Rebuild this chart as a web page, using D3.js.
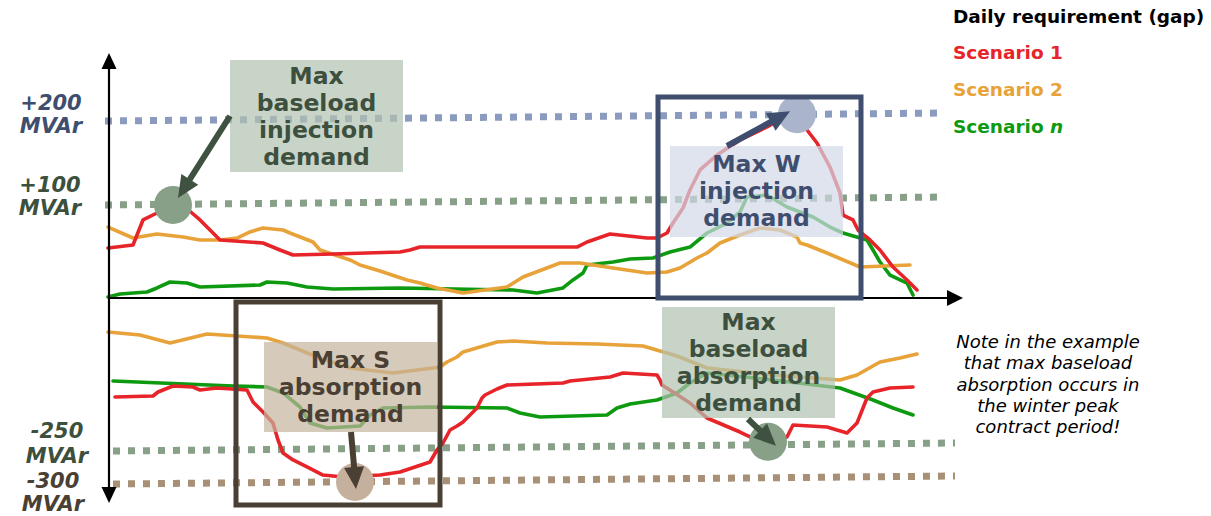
<!DOCTYPE html>
<html><head><meta charset="utf-8">
<script src="https://cdn.jsdelivr.net/npm/d3@7"></script>
<style>
html,body{margin:0;padding:0;background:#fff;}
svg{display:block;font-family:Verdana,"DejaVu Sans",sans-serif;}
</style>
</head><body>
<svg id="chart" width="1211" height="516"></svg>
<script>
// ---------- DATA ----------
const refValues = [200, 100, -250, -300];
const refLabels = ["+200", "+100", "-250", "-300"];
const refUnit = "MVAr";
const legendTitle = "Daily requirement (gap)";
const scenarioNames = ["Scenario 1", "Scenario 2", "Scenario n"];
const noteLines = ["Note in the example", "that max baseload", "absorption occurs in", "the winter peak", "contract period!"];

// [time index, MVAr]
const s1Injection = [[0,53.8],[2.5,57],[3.5,83.9],[4.9,91.4],[5.7,95.7],[6.7,98.9],[7.7,97.8],[8.4,91.4],[9.2,83.9],[11.2,62.4],[15.5,59.1],[17.2,51.6],[18.5,46.2],[22.5,47.3],[29.2,49.5],[30.2,51.6],[31.2,54.8],[46.9,54.8],[47.9,60.2],[50.2,68.8],[53.9,64.5],[54.9,64.5],[55.9,69.9],[56.5,80.6],[57.5,96.8],[58.2,117.9],[59.2,141.7],[60.9,159.5],[63.2,177.4],[65.9,192.9],[67.7,204.8],[68.9,209.5],[69.9,189.3],[70.9,173.8],[72.2,145.2],[73.2,114.3],[73.5,89.2],[74.5,83.9],[75.0,73.1],[76.2,62.4],[77.2,51.6],[78.5,33.3],[79.9,19.4],[80.9,8.6]];
const s2Injection = [[0,76.3],[2.5,64.5],[4.9,68.8],[7.5,65.6],[9.2,62.4],[11.2,62.4],[12.9,64.5],[14.2,71.0],[15.5,75.3],[17.5,73.1],[18.2,69.9],[20.5,60.2],[21.2,51.6],[24.2,40.9],[25.2,35.5],[27.2,29.0],[29.9,19.4],[31.2,16.1],[32.9,10.8],[35.5,5.4],[39.9,11.8],[41.5,22.6],[45.2,37.6],[47.2,37.6],[50.5,32.3],[53.9,26.9],[55.9,28.0],[57.2,32.3],[58.9,43.0],[59.9,48.4],[61.2,59.1],[63.2,67.7],[65.2,75.3],[67.2,73.1],[68.9,65.6],[69.2,59.1],[69.9,57.0],[71.9,48.4],[75.2,33.3],[80.2,35.5]];
const s3Injection = [[0,1.1],[1.2,4.3],[3.9,6.5],[4.9,10.8],[6.2,17.2],[7.9,16.1],[9.2,11.8],[15.2,14.0],[15.9,17.2],[17.9,16.1],[19.9,11.8],[22.5,9.7],[29.2,10.8],[40.5,8.6],[42.9,5.4],[45.5,10.8],[46.5,19.4],[47.5,26.9],[47.9,35.5],[50.5,38.7],[52.2,41.9],[54.5,43.0],[56.2,49.5],[58.2,54.8],[59.9,69.9],[61.9,80.6],[63.2,92.5],[63.9,109.5],[65.9,111.9],[67.9,97.8],[70.5,87.1],[72.2,76.3],[73.5,69.9],[75.9,62.4],[76.5,51.6],[77.2,38.7],[78.2,24.7],[79.9,16.1],[80.5,3.2]];
const s1Absorption = [[0.7,-161.8],[4.5,-160.1],[5.0,-153.6],[6.5,-143.8],[8.5,-145.4],[9.2,-150.3],[10.9,-147.1],[13.9,-150.3],[14.5,-169.9],[15.5,-186.3],[16.5,-204.3],[17.0,-232.0],[17.5,-253.0],[18.5,-263.6],[19.9,-274.2],[21.5,-286.4],[23.5,-289.4],[27.2,-286.4],[29.2,-281.8],[32.2,-266.7],[32.9,-248.4],[33.5,-236.9],[34.2,-215.7],[34.9,-209.2],[35.5,-202.6],[36.2,-191.2],[36.9,-179.7],[37.4,-163.4],[37.7,-158.5],[38.9,-148.7],[39.9,-142.2],[45.5,-138.9],[46.2,-135.6],[50.2,-129.1],[51.5,-122.6],[54.9,-125.8],[55.2,-134.0],[55.4,-142.2],[56.5,-153.6],[58.2,-171.6],[59.9,-196.1],[63.2,-219.0],[64.2,-227.1],[66.0,-235.3],[67.9,-227.1],[68.5,-207.5],[71.9,-210.8],[73.9,-220.6],[74.9,-204.3],[75.9,-163.4],[76.5,-153.6],[78.2,-147.1],[80.5,-145.4]];
const s2Absorption = [[0,-55.6],[3.2,-60.5],[6.2,-73.5],[9.9,-58.8],[15.9,-65.4],[17.5,-73.5],[19.2,-85.0],[20.9,-96.4],[24.2,-114.4],[28.5,-122.6],[32.5,-114.4],[33.2,-112.7],[33.9,-104.6],[34.9,-96.4],[35.5,-88.2],[37.2,-80.1],[38.9,-71.9],[40.5,-70.3],[43.9,-73.5],[48.9,-75.2],[53.5,-78.4],[55.2,-86.6],[56.9,-94.8],[59.9,-114.4],[66.5,-125.8],[73.2,-134.0],[74.9,-125.8],[77.2,-104.6],[79.2,-98.0],[80.9,-91.5]];
const s3Absorption = [[0.5,-135.6],[12.5,-143.8],[15.9,-145.4],[17.5,-155.2],[19.2,-178.1],[20.2,-204.3],[21.9,-212.4],[25.2,-209.2],[26.2,-191.2],[27.5,-179.7],[32.2,-178.1],[39.9,-179.7],[41.2,-187.9],[43.2,-194.4],[49.9,-191.2],[50.9,-179.7],[52.2,-173.2],[54.9,-166.7],[56.9,-155.2],[58.2,-138.9],[59.9,-122.6],[66.5,-134.0],[73.2,-147.1],[76.5,-166.7],[78.5,-179.7],[80.5,-191.2]];

const peakLabels = [
  {lines:["Max","baseload","injection","demand"], at:[6.5,100]},
  {lines:["Max W","injection","demand"], at:[68.9,208]},
  {lines:["Max S","absorption","demand"], at:[24.7,-297]},
  {lines:["Max","baseload","absorption","demand"], at:[66.0,-235]}
];
const periods = [{name:"summer", from:12.8, to:33.2}, {name:"winter", from:55.0, to:75.3}];

// ---------- LAYOUT / STYLE ----------
const svg = d3.select("#chart");
const x = d3.scaleLinear().domain([0,81]).range([108,918]);
const y = d3.scaleLinear().domain([-300,-250,0,100,200]).range([484,451,298,205,121]);
const scenarioColors = ["#e62429", "#e8a23a", "#0d9a10"];
const refStyle = [
  {color:"#8a9bbf", text:"#3f4e6e", x0:105, x1:945, lx:51, dy:[-11,12]},
  {color:"#87a087", text:"#3d4f3d", x0:105, x1:945, lx:50, dy:[-13,10]},
  {color:"#87a087", text:"#3d4f3d", x0:113, x1:955, lx:57, dy:[-13,12]},
  {color:"#a89077", text:"#4a3f33", x0:113, x1:955, lx:53, dy:[4,27]}
];
const tilt = 8;
const annLayout = [
  {box:[230,60,173,112], fill:"#b0c2b0", text:"#3d4f3d", circle:"#87a087", arrow:"#3f5140", from:[230,116], tip:[5,-7], base:84},
  {box:[670,146,173,91], fill:"#d1d8e7", text:"#3f4e6e", circle:"#aab5cc", arrow:"#3f4e6e", from:[727,146], tip:[-7,-3], base:172},
  {box:[264,342,173,90], fill:"#c4b39e", text:"#4a3f33", circle:"#c4b09c", arrow:"#4a3f33", from:[351,432], tip:[1,7], base:368},
  {box:[662,307,173,111], fill:"#b0c2b0", text:"#3d4f3d", circle:"#87a087", arrow:"#3f5140", from:[748,419], tip:[8,4], base:330}
];
const periodLayout = [{y0:302, y1:505, color:"#4a3f33"}, {y0:97, y1:298, color:"#3f4e6e"}];

// reference (dotted) lines
refValues.forEach((v,i)=>{
  const s = refStyle[i];
  svg.append("line").attr("x1",s.x0).attr("x2",s.x1)
    .attr("y1",y(v)).attr("y2",y(v)-tilt)
    .attr("stroke",s.color).attr("stroke-width",7).attr("stroke-dasharray","7,8");
  const t = svg.append("text").attr("text-anchor","middle").attr("fill",s.text)
    .attr("font-size",21).attr("font-weight","bold").attr("font-style","italic");
  t.append("tspan").attr("x",s.lx).attr("y",y(v)+s.dy[0]).text(refLabels[i]);
  t.append("tspan").attr("x",s.lx).attr("y",y(v)+s.dy[1]).text(refUnit);
});

// series
const line = d3.line().x(d=>x(d[0])).y(d=>y(d[1]));
const seriesSets = [[s1Injection,s1Absorption],[s2Injection,s2Absorption],[s3Injection,s3Absorption]];
[2,1,0].forEach(i=>{
  seriesSets[i].forEach(data=>{
    svg.append("path").datum(data).attr("d",line).attr("fill","none")
      .attr("stroke",scenarioColors[i]).attr("stroke-width",3.6)
      .attr("stroke-linejoin","round").attr("stroke-linecap","round");
  });
});

// axes
const ax = svg.append("g").attr("stroke","#000").attr("fill","#000");
const x0 = x(0)+1, yTop = 53, yBot = 503, xEnd = 963, y0 = y(0);
ax.append("line").attr("x1",x0).attr("x2",x0).attr("y1",yTop+10).attr("y2",yBot-10).attr("stroke-width",2.2);
ax.append("line").attr("x1",x0).attr("x2",xEnd-10).attr("y1",y0).attr("y2",y0).attr("stroke-width",2.2);
ax.append("path").attr("stroke","none").attr("d",`M${x0},${yTop}L${x0-7.5},${yTop+16}L${x0+7.5},${yTop+16}Z`);
ax.append("path").attr("stroke","none").attr("d",`M${x0},${yBot}L${x0-7.5},${yBot-16}L${x0+7.5},${yBot-16}Z`);
ax.append("path").attr("stroke","none").attr("d",`M${xEnd},${y0}L${xEnd-16},${y0-8}L${xEnd-16},${y0+8}Z`);

// annotation boxes, circles, arrows, texts
function arrowPath(x1,y1,x2,y2,shaft,headL,headW){
  const dx=x2-x1, dy=y2-y1, L=Math.hypot(dx,dy), ux=dx/L, uy=dy/L, nx=-uy, ny=ux;
  const bx=x2-ux*headL, by=y2-uy*headL;
  const p=[[x1+nx*shaft/2,y1+ny*shaft/2],[bx+nx*shaft/2,by+ny*shaft/2],[bx+nx*headW/2,by+ny*headW/2],[x2,y2],
    [bx-nx*headW/2,by-ny*headW/2],[bx-nx*shaft/2,by-ny*shaft/2],[x1-nx*shaft/2,y1-ny*shaft/2]];
  return "M"+p.map(q=>q.join(",")).join("L")+"Z";
}
peakLabels.forEach((a,i)=>{
  const L = annLayout[i];
  svg.append("rect").attr("x",L.box[0]).attr("y",L.box[1]).attr("width",L.box[2]).attr("height",L.box[3])
    .attr("fill",L.fill).attr("opacity",0.7);
});
peakLabels.forEach((a,i)=>{
  const L = annLayout[i];
  const cx = x(a.at[0]), cy = y(a.at[1]);
  svg.append("circle").attr("cx",cx).attr("cy",cy).attr("r",19).attr("fill",L.circle);
  svg.append("path").attr("d",arrowPath(L.from[0],L.from[1],cx+L.tip[0],cy+L.tip[1],6,22,20)).attr("fill",L.arrow);
  const t = svg.append("text").attr("text-anchor","middle").attr("fill",L.text)
    .attr("font-size",23.5).attr("font-weight","bold");
  a.lines.forEach((s,j)=>t.append("tspan").attr("x",L.box[0]+L.box[2]/2).attr("y",L.base+j*27).text(s));
});

// period frames
periods.forEach((p,i)=>{
  const L = periodLayout[i];
  svg.append("rect").attr("x",x(p.from)).attr("y",L.y0).attr("width",x(p.to)-x(p.from)).attr("height",L.y1-L.y0)
    .attr("fill","none").attr("stroke",L.color).attr("stroke-width",5);
});

// legend
const lg = svg.append("g").attr("font-size",18.5).attr("font-weight","bold");
lg.append("text").attr("x",953).attr("y",23).attr("fill","#000").text(legendTitle);
scenarioNames.forEach((n,i)=>{
  const t = lg.append("text").attr("x",953).attr("y",59+i*37).attr("fill",scenarioColors[i]);
  const parts = n.split(" ");
  t.append("tspan").text(parts[0]+" ");
  t.append("tspan").attr("font-style", parts[1]==="n" ? "italic" : "normal").text(parts[1]);
});

// note
const nt = svg.append("text").attr("text-anchor","middle").attr("font-size",18).attr("font-style","italic").attr("fill","#000");
noteLines.forEach((s,j)=>nt.append("tspan").attr("x",1048).attr("y",348+j*21.3).text(s));
</script>
</body></html>
